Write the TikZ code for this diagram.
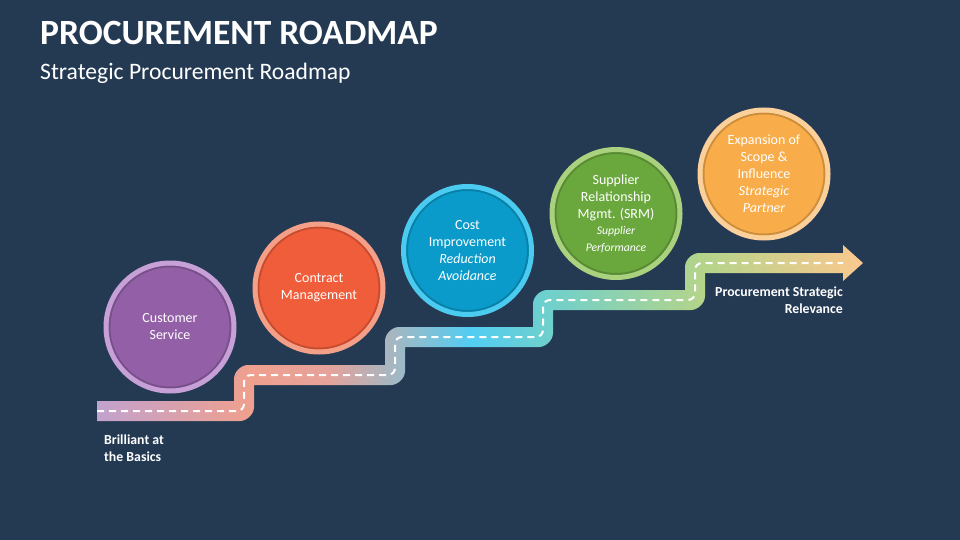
\documentclass[tikz,border=0pt]{standalone}
\usepackage{fontspec}
\setmainfont{Carlito}
\definecolor{bg}{HTML}{243A53}
\definecolor{r1}{HTML}{C2A2CE}
\definecolor{r2}{HTML}{EFA08E}
\definecolor{r3}{HTML}{E6A29A}
\definecolor{r4}{HTML}{9EB9C6}
\definecolor{r5}{HTML}{52CDF2}
\definecolor{r6}{HTML}{6FD0CC}
\definecolor{r7}{HTML}{B3D48A}
\definecolor{r8}{HTML}{FBC88E}
\definecolor{f1}{HTML}{9360A8}
\definecolor{g1}{HTML}{C6A0D6}
\definecolor{f2}{HTML}{F05D3B}
\definecolor{g2}{HTML}{F4A088}
\definecolor{f3}{HTML}{0A9BCB}
\definecolor{g3}{HTML}{4CCBF0}
\definecolor{f4}{HTML}{6AA83E}
\definecolor{g4}{HTML}{A9D17E}
\definecolor{f5}{HTML}{F8AD4A}
\definecolor{g5}{HTML}{FBD09A}
\pgfdeclarehorizontalshading{roadshade}{100bp}{color(0bp)=(r1); color(25bp)=(r1); color(35bp)=(r2); color(40bp)=(r3); color(44.75bp)=(r4); color(49.35bp)=(r5); color(54.5bp)=(r6); color(64.35bp)=(r7); color(75bp)=(r8); color(100bp)=(r8)}
\begin{document}
\begin{tikzpicture}[x=1pt,y=-1pt,
  circ/.style 2 args={circle, minimum size=128pt, inner sep=0pt, fill=#1, draw=#2, line width=5pt,
    text=white, align=center, font=\fontsize{14}{17}\selectfont,
    path picture={\draw[#1!50!black, opacity=0.35, line width=2pt] (path picture bounding box.center) circle (60.5pt);}},
  lbl/.style={text=white, font=\bfseries\fontsize{13.8}{17}\selectfont, inner sep=0pt},
  dashline/.style={white, line width=2pt, dash pattern=on 7pt off 5pt, rounded corners=7pt}
]
\fill[bg] (0,0) rectangle (960,540);
\useasboundingbox (0,0) rectangle (960,540);

% title
\node[anchor=base west, inner sep=0pt, text=white, font=\bfseries\fontsize{35.5}{40}\selectfont] (title) at (40,45) {PROCUREMENT ROADMAP};
\node[anchor=base west, inner sep=0pt, text=white, font=\fontsize{23.6}{27}\selectfont] (subtitle) at (40,80) {Strategic Procurement Roadmap};

% road
\shade[shading=roadshade] (97,401) -- (234,401) -- (234,379) .. controls (234,371.27) and (241.73,365) .. (248,365)
 -- (385,365) -- (385,341) .. controls (385,333.27) and (392.73,327) .. (399,327)
 -- (533,327) -- (533,304) .. controls (533,296.27) and (540.73,290) .. (547,290)
 -- (685,290) -- (685,267) .. controls (685,259.27) and (692.73,253) .. (699,253)
 -- (843,253) -- (843,245) -- (863,263) -- (843,281) -- (843,273)
 -- (705,273) -- (705,296) .. controls (705,303.73) and (697.27,310) .. (691,310)
 -- (553,310) -- (553,333) .. controls (553,340.73) and (545.27,347) .. (539,347)
 -- (405,347) -- (405,371) .. controls (405,378.73) and (397.27,385) .. (391,385)
 -- (254,385) -- (254,407) .. controls (254,414.73) and (246.27,421) .. (240,421)
 -- (97,421) -- cycle;
\coordinate (d0) at (97,411);
\coordinate (d1) at (843,263);
\draw[dashline] (d0) -- (244,411) -- (244,375) -- (395,375) -- (395,337) -- (543,337) -- (543,300) -- (695,300) -- (695,263) -- (d1);

% circles
\node[circ={f1}{g1}] (c1) at (170,327) {Customer\\Service};
\node[circ={f2}{g2}] (c2) at (319,288) {Contract\\Management};
\node[circ={f3}{g3}] (c3) at (467.5,250.5) {Cost\\Improvement\\\itshape Reduction\\\itshape Avoidance};
\node[circ={f4}{g4}] (c4) at (616,213.5) {Supplier\\Relationship\\Mgmt. (SRM)\\[-1pt]\fontsize{11.7}{13.5}\selectfont\itshape Supplier\\\fontsize{11.7}{13.5}\selectfont\itshape Performance};
\node[circ={f5}{g5}] (c5) at (764,174) {Expansion of\\Scope \&\\Influence\\\itshape Strategic\\\itshape Partner};

% labels
\node[lbl, anchor=north west, align=left] (l1) at (104,435) {Brilliant at\\the Basics};
\node[lbl, anchor=north east, align=right] (l2) at (843,287) {Procurement Strategic\\Relevance};
\end{tikzpicture}
\end{document}
